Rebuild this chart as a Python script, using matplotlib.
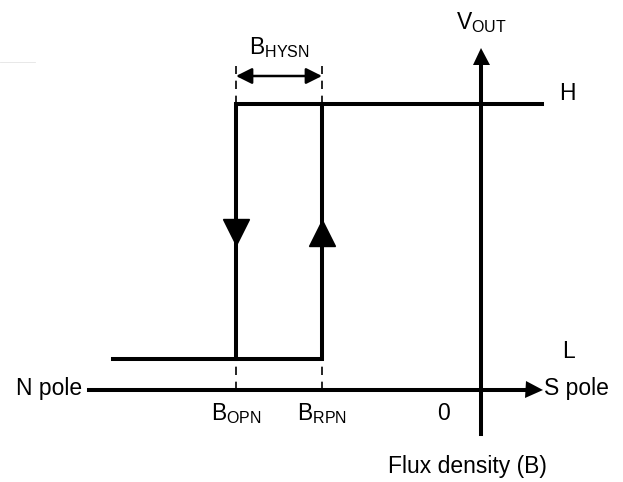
import matplotlib
matplotlib.use("Agg")
import matplotlib.pyplot as plt

plt.rcParams['font.family'] = ['Liberation Sans', 'DejaVu Sans']
plt.rcParams['mathtext.fontset'] = 'custom'
plt.rcParams['mathtext.rm'] = 'Liberation Sans'
plt.rcParams['mathtext.it'] = 'Liberation Sans'

# switching points and output levels (origin = where the axes cross)
b_op = -245      # operate point, N pole
b_rp = -159      # release point, N pole
v_low = 31
v_high = 286
b_min = -368     # left end of the L level
b_max = 61       # right end of the H level

# hysteresis loop path: H line, down at B_OPN, L line, up at B_RPN
loop_x = [b_max, b_op, b_op]
loop_y = [v_high, v_high, v_low]
low_x = [b_min, b_rp, b_rp]
low_y = [v_low, v_low, v_high]

# axes extent
x_axis = [-392, 61]
y_axis = [-44, 343]

fig = plt.figure(figsize=(6.23, 4.82), dpi=100)
ax = fig.add_axes([0, 0, 1, 1])
ax.set_xlim(-481, 142)
ax.set_ylim(-92, 390)
ax.axis('off')

lw = 2.9
ax.plot(loop_x, loop_y, color='k', lw=lw, solid_joinstyle='miter')
ax.plot(low_x, low_y, color='k', lw=lw, solid_joinstyle='miter')

# direction markers on the vertical edges
ax.plot([b_op], [158], marker='v', ms=19, color='k', mec='k')
ax.plot([b_rp], [157], marker='^', ms=19, color='k', mec='k')

# axes with arrow heads (1 data unit = 1 px here)
hs = 17
ax.plot([x_axis[0], x_axis[1] - hs / 2], [0, 0], color='k', lw=lw)
ax.plot([0, 0], [y_axis[0], y_axis[1] - hs / 2], color='k', lw=lw)
ax.plot([x_axis[1] - hs / 2], [0], marker='>', ms=hs * 0.72, color='k', mew=0)
ax.plot([0], [y_axis[1] - hs / 2], marker='^', ms=hs * 0.72, color='k', mew=0)

# dashed guides
for b in [b_op, b_rp]:
    ax.plot([b, b], [0, v_low], color='k', lw=1.2, ls=(0, (5, 4)))
    ax.plot([b, b], [v_high, 324], color='k', lw=1.2, ls=(0, (5, 4)))

# hysteresis width arrow
ax.annotate('', xy=(b_op, 314), xytext=(b_rp, 314),
            arrowprops=dict(arrowstyle='<|-|>,head_length=0.6,head_width=0.3',
                            color='k', lw=1.8, mutation_scale=16,
                            shrinkA=0, shrinkB=0))

# faint scan artefact at top left
ax.plot([-481, -446], [328, 328], color='#e4e4e4', lw=0.6)

fs = 16.5
ax.text(0, 367, r'$\mathregular{V_{OUT}}$', fontsize=fs, ha='center', va='center')
ax.text((b_op + b_rp) / 2, 342, r'$\mathregular{B_{HYSN}}$', fontsize=fs,
        ha='center', va='center')
ax.text(86, 297, 'H', fontsize=fs, ha='center', va='center')
ax.text(87, 38, 'L', fontsize=fs, ha='center', va='center')
ax.text(63, 2, 'S pole', fontsize=fs, ha='left', va='center')
ax.text(-399, 2, 'N pole', fontsize=fs, ha='right', va='center')
ax.text(-38, -23, '0', fontsize=fs, ha='center', va='center')
ax.text(b_op, -24, r'$\mathregular{B_{OPN}}$', fontsize=fs, ha='center', va='center')
ax.text(b_rp, -24, r'$\mathregular{B_{RPN}}$', fontsize=fs, ha='center', va='center')
ax.text(-14, -77, 'Flux density (B)', fontsize=fs, ha='center', va='center')

fig.savefig('out.png', dpi=100)
